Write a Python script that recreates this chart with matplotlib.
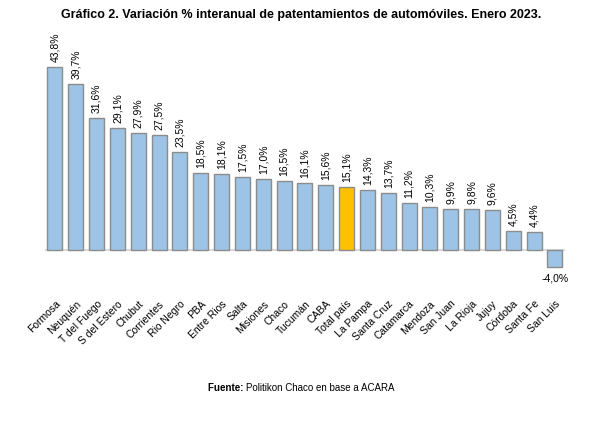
import matplotlib
matplotlib.use("Agg")
import matplotlib.pyplot as plt

plt.rcParams['font.family'] = ['Liberation Sans', 'DejaVu Sans']

provincias = ['Formosa', 'Neuquén', 'T del Fuego', 'S del Estero', 'Chubut', 'Corrientes',
              'Rio Negro', 'PBA', 'Entre Rios', 'Salta', 'Misiones', 'Chaco', 'Tucumán',
              'CABA', 'Total país', 'La Pampa', 'Santa Cruz', 'Catamarca', 'Mendoza',
              'San Juan', 'La Rioja', 'Jujuy', 'Córdoba', 'Santa Fe', 'San Luis']
variacion = [43.8, 39.7, 31.6, 29.1, 27.9, 27.5, 23.5, 18.5, 18.1, 17.5, 17.0, 16.5, 16.1,
             15.6, 15.1, 14.3, 13.7, 11.2, 10.3, 9.9, 9.8, 9.6, 4.5, 4.4, -4.0]

colores = ['#FFC000' if p == 'Total país' else '#9DC3E6' for p in provincias]

fig = plt.figure(figsize=(6.02, 4.28), dpi=100)
ax = fig.add_axes([0.074, 0.318, 0.865, 0.586])

x = range(len(provincias))
ax.bar(x, variacion, width=0.72, color=colores, edgecolor='#8c8c8c', linewidth=1.0, zorder=2)
ax.axhline(0, color='#d9d9d9', linewidth=1.5, zorder=1)

for i, v in enumerate(variacion):
    txt = f"{v:.1f}".replace('.', ',') + '%'
    if v >= 0:
        ax.text(i, v + 1.2, txt, rotation=90, ha='center', va='bottom', fontsize=7.5)
    else:
        ax.text(i, v - 1.5, txt, ha='center', va='top', fontsize=7.5)

ax.set_xlim(-0.5, len(provincias) - 0.5)
ax.set_ylim(-10, 50)
ax.set_xticks(list(x))
ax.set_xticklabels(provincias, rotation=45, ha='right', rotation_mode='anchor', fontsize=7.5)
ax.tick_params(axis='x', length=0, pad=5)
ax.set_yticks([])
for s in ax.spines.values():
    s.set_visible(False)

fig.text(0.5, 0.965, 'Gráfico 2. Variación % interanual de patentamientos de automóviles. Enero 2023.',
         ha='center', va='center', fontsize=9, fontweight='bold')

# fuente: parte en negrita y parte normal
fig.canvas.draw()
r = fig.canvas.get_renderer()
t1 = fig.text(0, 0.093, 'Fuente: ', fontsize=7, fontweight='bold', va='center')
t2 = fig.text(0, 0.093, 'Politikon Chaco en base a ACARA', fontsize=7, va='center')
w1 = t1.get_window_extent(r).width / fig.bbox.width
w2 = t2.get_window_extent(r).width / fig.bbox.width
x0 = 0.5 - (w1 + w2) / 2
t1.set_x(x0)
t2.set_x(x0 + w1)

fig.savefig('out.png', dpi=100)
